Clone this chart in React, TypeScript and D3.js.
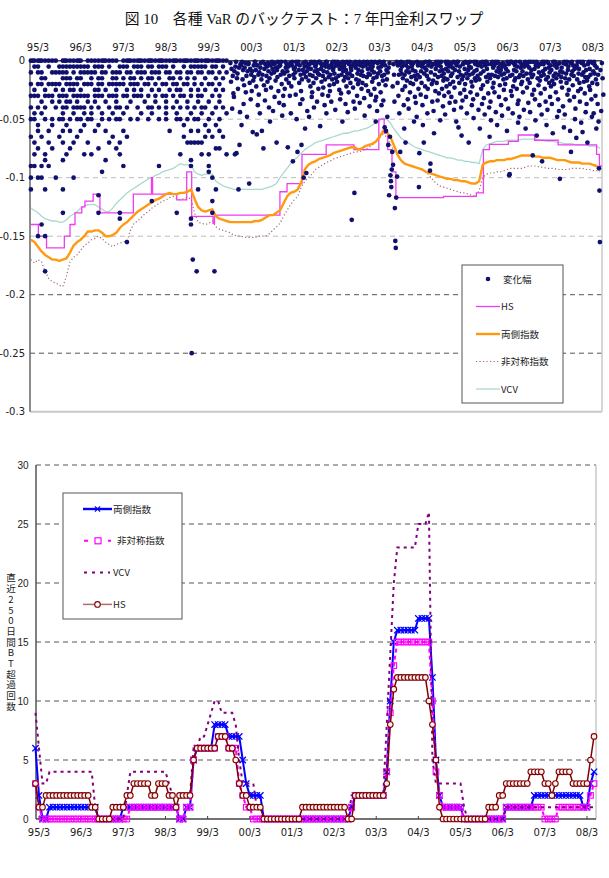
import { useEffect, useRef } from "react";
import * as d3 from "d3";

// 横軸 (各年3月)
const tickLabels = ["95/3", "96/3", "97/3", "98/3", "99/3", "00/3", "01/3", "02/3", "03/3", "04/3", "05/3", "06/3", "07/3", "08/3"];

// 上段: VaR (月次, 1995年1月 = 0)
const twoSidedVaR = [
  -0.153, -0.155, -0.159, -0.163, -0.166, -0.168, -0.17, -0.17, -0.171, -0.17,
  -0.169, -0.164, -0.158, -0.155, -0.153, -0.15, -0.146, -0.146, -0.145, -0.145,
  -0.147, -0.15, -0.15, -0.149, -0.147, -0.143, -0.14, -0.138, -0.135, -0.132,
  -0.129, -0.127, -0.125, -0.123, -0.121, -0.119, -0.118, -0.116, -0.114, -0.113,
  -0.114, -0.114, -0.113, -0.113, -0.112, -0.11, -0.118, -0.125, -0.128, -0.129,
  -0.128, -0.127, -0.133, -0.135, -0.136, -0.137, -0.138, -0.138, -0.138, -0.138,
  -0.138, -0.138, -0.138, -0.137, -0.137, -0.136, -0.134, -0.132, -0.132, -0.13,
  -0.128, -0.122, -0.116, -0.113, -0.112, -0.11, -0.104, -0.093, -0.089, -0.087,
  -0.086, -0.084, -0.083, -0.082, -0.081, -0.079, -0.078, -0.077, -0.076, -0.075,
  -0.074, -0.074, -0.076, -0.075, -0.073, -0.072, -0.071, -0.069, -0.065, -0.06,
  -0.061, -0.065, -0.072, -0.08, -0.085, -0.088, -0.089, -0.09, -0.091, -0.092,
  -0.093, -0.095, -0.096, -0.097, -0.098, -0.099, -0.1, -0.101, -0.101, -0.102,
  -0.102, -0.103, -0.103, -0.104, -0.105, -0.105, -0.103, -0.089, -0.087, -0.086,
  -0.086, -0.085, -0.085, -0.085, -0.084, -0.084, -0.083, -0.082, -0.081, -0.081,
  -0.081, -0.081, -0.082, -0.082, -0.083, -0.083, -0.083, -0.084, -0.085, -0.085,
  -0.085, -0.086, -0.087, -0.087, -0.087, -0.088, -0.088, -0.088, -0.089, -0.09,
  -0.093,
];

const asymVaR = [
  -0.17, -0.173, -0.17, -0.172, -0.18, -0.186, -0.189, -0.19, -0.192, -0.193,
  -0.184, -0.172, -0.168, -0.166, -0.162, -0.158, -0.156, -0.153, -0.152, -0.15,
  -0.152, -0.155, -0.157, -0.159, -0.157, -0.156, -0.155, -0.154, -0.145, -0.139,
  -0.137, -0.134, -0.131, -0.129, -0.126, -0.124, -0.122, -0.12, -0.119, -0.117,
  -0.116, -0.118, -0.119, -0.118, -0.117, -0.118, -0.13, -0.138, -0.139, -0.14,
  -0.139, -0.137, -0.142, -0.144, -0.145, -0.146, -0.147, -0.149, -0.15, -0.15,
  -0.151, -0.151, -0.151, -0.151, -0.15, -0.15, -0.15, -0.148, -0.145, -0.142,
  -0.139, -0.133, -0.128, -0.123, -0.119, -0.116, -0.108, -0.103, -0.1, -0.097,
  -0.093, -0.091, -0.089, -0.087, -0.086, -0.084, -0.083, -0.082, -0.081, -0.08,
  -0.079, -0.078, -0.078, -0.077, -0.076, -0.074, -0.072, -0.069, -0.066, -0.063,
  -0.065, -0.071, -0.076, -0.081, -0.085, -0.087, -0.089, -0.09, -0.091, -0.092,
  -0.093, -0.095, -0.098, -0.102, -0.105, -0.107, -0.108, -0.109, -0.11, -0.111,
  -0.112, -0.113, -0.113, -0.114, -0.115, -0.116, -0.111, -0.1, -0.097, -0.096,
  -0.096, -0.095, -0.095, -0.094, -0.093, -0.092, -0.092, -0.092, -0.092, -0.091,
  -0.09, -0.09, -0.09, -0.091, -0.091, -0.092, -0.092, -0.092, -0.093, -0.093,
  -0.093, -0.093, -0.092, -0.092, -0.092, -0.092, -0.093, -0.093, -0.094, -0.094,
  -0.095,
];

const vcvVaR = [
  -0.126, -0.128, -0.13, -0.133, -0.135, -0.136, -0.137, -0.137, -0.138, -0.138,
  -0.136, -0.133, -0.131, -0.129, -0.126, -0.124, -0.123, -0.123, -0.123, -0.125,
  -0.127, -0.129, -0.129, -0.126, -0.122, -0.119, -0.116, -0.113, -0.111, -0.109,
  -0.107, -0.105, -0.103, -0.101, -0.1, -0.098, -0.097, -0.095, -0.094, -0.093,
  -0.092, -0.09, -0.088, -0.089, -0.089, -0.089, -0.095, -0.097, -0.098, -0.097,
  -0.097, -0.097, -0.103, -0.105, -0.107, -0.108, -0.109, -0.11, -0.11, -0.11,
  -0.11, -0.11, -0.11, -0.11, -0.11, -0.11, -0.109, -0.108, -0.107, -0.105,
  -0.1, -0.096, -0.092, -0.088, -0.085, -0.082, -0.079, -0.076, -0.074, -0.072,
  -0.07, -0.069, -0.068, -0.067, -0.066, -0.065, -0.064, -0.063, -0.062, -0.062,
  -0.061, -0.06, -0.06, -0.059, -0.058, -0.057, -0.055, -0.053, -0.051, -0.049,
  -0.05, -0.053, -0.058, -0.062, -0.066, -0.068, -0.07, -0.072, -0.074, -0.075,
  -0.076, -0.077, -0.078, -0.079, -0.08, -0.081, -0.082, -0.083, -0.083, -0.084,
  -0.085, -0.085, -0.086, -0.086, -0.087, -0.087, -0.088, -0.076, -0.072, -0.071,
  -0.07, -0.069, -0.069, -0.069, -0.068, -0.068, -0.068, -0.068, -0.067, -0.067,
  -0.067, -0.067, -0.067, -0.068, -0.068, -0.069, -0.069, -0.069, -0.07, -0.07,
  -0.071, -0.071, -0.071, -0.072, -0.072, -0.072, -0.072, -0.073, -0.073, -0.073,
  -0.075,
];

// HS は階段状: [月, 値]
const hsVaR: [number, number][] = [
  [0, -0.14], [2.1, -0.15], [4.4, -0.16], [9.4, -0.15], [11, -0.14], [12.4, -0.13],
  [14.3, -0.125], [15.2, -0.12], [17.5, -0.114], [19.4, -0.13], [28.8, -0.114],
  [33.9, -0.1], [34.2, -0.114], [41, -0.119], [43.8, -0.095], [45.2, -0.133],
  [51.2, -0.139], [51.6, -0.132], [70, -0.112], [72, -0.105], [76.2, -0.08],
  [83, -0.072], [90.8, -0.076], [97.8, -0.05], [99.3, -0.062], [100.3, -0.076],
  [101.5, -0.095], [102.6, -0.117], [116, -0.116], [125.2, -0.113], [127.2, -0.076],
  [128.9, -0.0715], [134.2, -0.069], [137, -0.0635], [141.6, -0.068], [148.2, -0.072],
  [159, -0.08], [159.8, -0.09], [160.5, -0.09],
];

// 変化幅: 1995〜99年半ばは 0.005 刻みの水準ごとに月を並べる
const changeLevels = [
  0, -0.005, -0.01, -0.015, -0.02, -0.025, -0.03, -0.035, -0.04, -0.045, -0.05,
  -0.055, -0.06, -0.065, -0.07, -0.075, -0.08, -0.085, -0.09, -0.095, -0.1, -0.11,
  -0.115, -0.12, -0.13, -0.135, -0.14, -0.15, -0.155, -0.17, -0.18, -0.25,
];
const changeMonths = [
  [0, 0.5, 1, 2, 2.5, 3, 4, 5, 6, 7, 9, 9.5, 10, 11, 12, 13, 13.5, 14, 16, 17, 18, 19, 20, 20.5, 21, 22, 23, 24, 26, 27, 27.5, 28, 29, 30, 30.5, 31, 32, 33, 33.5, 34, 35, 36, 36.5, 37, 38, 39, 40, 40.5, 41, 42, 43, 43.5, 44, 45, 46, 46.5, 47, 48, 49, 49.5, 50, 51, 52, 52.5, 53, 54, 55],
  [1, 2, 5, 8, 9, 10, 11, 12, 13, 14, 15, 16, 18, 19, 20, 22, 25, 26, 27, 29, 30, 31, 33, 34, 36, 37, 38, 40, 43, 45, 46, 47, 48, 49, 51, 52, 54],
  [0, 2, 3, 6, 7, 8, 9, 10, 12, 14, 15, 16, 17, 18, 20, 21, 23, 24, 25, 27, 28, 30, 31, 32, 34, 35, 36, 38, 39, 41, 42, 44, 45, 47, 48, 50, 51, 53, 55],
  [3, 4, 9, 10, 11, 13, 14, 17, 19, 20, 23, 24, 26, 28, 29, 31, 33, 34, 36, 39, 40, 42, 44, 46, 49, 52, 54],
  [0, 2, 3, 5, 6, 7, 8, 10, 11, 12, 13, 15, 16, 17, 19, 20, 22, 23, 24, 25, 26, 28, 29, 30, 32, 33, 35, 37, 38, 40, 41, 43, 44, 46, 48, 50, 51, 53],
  [1, 4, 7, 9, 11, 12, 14, 18, 19, 21, 24, 27, 29, 31, 34, 36, 39, 41, 42, 45, 47, 49, 52, 54],
  [0, 1, 2, 4, 5, 6, 8, 9, 10, 12, 13, 14, 15, 16, 18, 19, 20, 22, 23, 24, 26, 27, 29, 30, 31, 33, 35, 37, 38, 40, 42, 43, 45, 47, 48, 51, 53],
  [3, 6, 8, 10, 11, 13, 16, 18, 21, 24, 28, 32, 35, 38, 41, 44, 47, 50, 53],
  [0, 2, 4, 7, 9, 10, 12, 13, 14, 15, 17, 19, 22, 24, 25, 27, 30, 33, 34, 36, 38, 40, 42, 44, 46, 48, 49, 52, 54],
  [1, 3, 9, 12, 15, 17, 20, 23, 26, 31, 34, 38, 41, 45, 48, 51, 55],
  [0, 1, 4, 6, 8, 9, 11, 13, 14, 16, 17, 20, 22, 24, 25, 28, 30, 33, 36, 38, 41, 42, 44, 46, 47, 50, 53],
  [2, 6, 10, 15, 19, 43, 49, 52],
  [2, 5, 9, 11, 14, 18, 21, 26, 39, 45, 47, 50, 53],
  [0, 3, 8, 13, 23, 27, 43, 49, 51, 54],
  [1, 5, 9, 12, 16, 22, 25, 44, 45, 46, 47, 48],
  [2, 6, 11, 19, 24, 52, 53],
  [1, 4, 10, 15, 17, 25, 42, 48, 50, 55],
  [4, 9, 21, 45],
  [0, 1, 3, 5, 26, 36, 45, 50],
  [20, 50],
  [0, 2, 3, 7, 12, 51],
  [0, 4, 9, 47, 52],
  [19],
  [34, 51],
  [9, 19, 25, 41, 51],
  [25, 45],
  [3, 45],
  [2, 4],
  [27],
  [45.5],
  [4, 46.6, 51.6],
  [45.2],
];

// 1999年9月以降: 月ごとの変化幅
const lateStart = 56;
const lateChanges = [
  [-.002, -.018, -.007, -.041, -.013, -.028],
  [-.005, -.001, -.079, -.015, -.031, -.009, -.08],
  [-.003, -.011, -.024, -.11, -.006, -.072, -.044],
  [-.001, -.016, -.008, -.037, -.021, -.004, -.055],
  [-.006, -.002, -.027, -.013, -.048, -.009],
  [-.002, -.105, -.019, -.007, -.033, -.012, -.003],
  [-.004, -.014, -.001, -.026, -.009, -.061, -.017],
  [-.001, -.008, -.022, -.063, -.004, -.038, -.012],
  [-.006, -.002, -.016, -.06, -.029, -.01, -.045],
  [-.003, -.012, -.001, -.075, -.021, -.007, -.034],
  [-.005, -.018, -.002, -.009, -.04, -.025, -.013],
  [-.001, -.007, -.015, -.052, -.004, -.023, -.011],
  [-.003, -.01, -.031, -.002, -.017, -.006, -.043],
  [-.002, -.07, -.008, -.014, -.001, -.026, -.005, -.036],
  [-.004, -.012, -.001, -.02, -.047, -.009, -.03],
  [-.001, -.006, -.016, -.003, -.038, -.011, -.024],
  [-.002, -.009, -.074, -.005, -.019, -.013, -.03],
  [-.004, -.001, -.086, -.012, -.007, -.045, -.022],
  [-.003, -.078, -.015, -.006, -.01, -.029, -.001, -.05],
  [-.001, -.008, -.019, -.004, -.037, -.012, -.026, -.002],
  [-.002, -.1, -.011, -.005, -.072, -.016, -.033, -.008],
  [-.006, -.058, -.001, -.014, -.096, -.009, -.043, -.003],
  [-.003, -.012, -.022, -.007, -.001, -.031, -.017, -.048],
  [-.001, -.009, -.005, -.027, -.013, -.002, -.019, -.04],
  [-.004, -.015, -.002, -.035, -.008, -.011, -.024, -.001],
  [-.002, -.007, -.018, -.004, -.029, -.012, -.001, -.056],
  [-.005, -.001, -.013, -.023, -.009, -.003, -.038, -.016],
  [-.001, -.01, -.004, -.03, -.014, -.006, -.021, -.045],
  [-.003, -.016, -.001, -.008, -.026, -.012, -.005, -.035],
  [-.002, -.006, -.02, -.011, -.001, -.042, -.015, -.004],
  [-.004, -.013, -.002, -.025, -.007, -.033, -.018, -.001],
  [-.001, -.009, -.017, -.003, -.028, -.012, -.006, -.052],
  [-.005, -.002, -.014, -.037, -.008, -.022, -.001, -.011],
  [-.003, -.011, -.001, -.019, -.006, -.044, -.015, -.027],
  [-.002, -.113, -.008, -.136, -.013, -.004, -.023, -.035],
  [-.001, -.006, -.016, -.003, -.03, -.011, -.02, -.041],
  [-.004, -.012, -.002, -.024, -.008, -.017, -.001, -.036],
  [-.002, -.009, -.019, -.005, -.013, -.001, -.032, -.047],
  [-.003, -.014, -.001, -.007, -.026, -.011, -.004, -.021],
  [-.001, -.008, -.018, -.003, -.039, -.012, -.006, -.029],
  [-.005, -.002, -.015, -.01, -.024, -.001, -.034, -.052],
  [-.002, -.011, -.006, -.02, -.001, -.031, -.014, -.043],
  [-.003, -.017, -.001, -.009, -.027, -.005, -.038, -.013],
  [-.001, -.012, -.057, -.004, -.021, -.06, -.008, -.034],
  [-.006, -.115, -.002, -.065, -.016, -.048, -.01, -.072],
  [-.003, -.098, -.103, -.108, -.093, -.078, -.022, -.089],
  [-.126, -.154, -.16, -.117, -.001, -.099, -.012, -.035],
  [-.002, -.078, -.008, -.019, -.004, -.03, -.012, -.045],
  [-.001, -.011, -.005, -.025, -.015, -.002, -.038, -.058],
  [-.004, -.009, -.017, -.001, -.033, -.012, -.022, -.07],
  [-.002, -.014, -.006, -.041, -.01, -.001, -.027, -.019],
  [-.003, -.008, -.02, -.002, -.052, -.013, -.031, -.005],
  [-.001, -.012, -.004, -.024, -.009, -.036, -.016, -.048],
  [-.005, -.108, -.079, -.014, -.002, -.029, -.009, -.019],
  [-.002, -.07, -.011, -.006, -.022, -.001, -.038, -.055],
  [-.004, -.016, -.001, -.031, -.008, -.013, -.045, -.024],
  [-.001, -.094, -.088, -.01, -.005, -.02, -.035, -.003],
  [-.003, -.012, -.026, -.007, -.001, -.017, -.043, -.062],
  [-.002, -.009, -.019, -.004, -.034, -.014, -.001, -.028],
  [-.005, -.001, -.013, -.024, -.008, -.039, -.017, -.051],
  [-.001, -.007, -.022, -.003, -.011, -.03, -.015, -.046],
  [-.003, -.016, -.001, -.009, -.027, -.005, -.036, -.02],
  [-.002, -.011, -.006, -.018, -.001, -.042, -.013, -.031],
  [-.004, -.001, -.014, -.023, -.008, -.035, -.002, -.052],
  [-.001, -.057, -.009, -.019, -.005, -.028, -.012, -.04],
  [-.003, -.013, -.002, -.025, -.007, -.064, -.016, -.034],
  [-.002, -.008, -.02, -.001, -.031, -.011, -.045, -.015],
  [-.005, -.012, -.001, -.027, -.006, -.018, -.038, -.07],
  [-.001, -.009, -.015, -.003, -.022, -.011, -.033, -.049],
  [-.003, -.017, -.001, -.008, -.029, -.013, -.004, -.042],
  [-.002, -.011, -.024, -.005, -.037, -.001, -.016, -.058],
  [-.004, -.001, -.014, -.021, -.009, -.032, -.002, -.046],
  [-.001, -.007, -.018, -.003, -.028, -.012, -.04, -.065],
  [-.003, -.012, -.001, -.023, -.006, -.015, -.035, -.051],
  [-.002, -.009, -.019, -.004, -.027, -.013, -.001, -.044],
  [-.001, -.014, -.006, -.031, -.01, -.021, -.003, -.055],
  [-.005, -.002, -.016, -.025, -.008, -.038, -.012, -.047],
  [-.001, -.011, -.004, -.02, -.033, -.007, -.015, -.06],
  [-.003, -.098, -.097, -.013, -.001, -.026, -.009, -.041],
  [-.002, -.008, -.017, -.001, -.03, -.012, -.045, -.022],
  [-.004, -.015, -.001, -.009, -.024, -.005, -.037, -.053],
  [-.001, -.012, -.006, -.02, -.003, -.034, -.014, -.048],
  [-.003, -.001, -.018, -.009, -.027, -.013, -.042, -.005],
  [-.002, -.011, -.023, -.004, -.016, -.036, -.001, -.058],
  [-.001, -.008, -.014, -.029, -.006, -.019, -.044, -.011],
  [-.004, -.081, -.012, -.001, -.025, -.007, -.033, -.051],
  [-.002, -.015, -.005, -.021, -.01, -.038, -.001, -.064],
  [-.086, -.001, -.009, -.017, -.003, -.028, -.013, -.046],
  [-.003, -.012, -.001, -.024, -.007, -.035, -.016, -.055],
  [-.002, -.006, -.019, -.01, -.031, -.001, -.042, -.014],
  [-.001, -.013, -.004, -.022, -.008, -.037, -.017, -.062],
  [-.004, -.001, -.011, -.027, -.015, -.006, -.048, -.02],
  [-.002, -.101, -.009, -.018, -.003, -.033, -.012, -.043],
  [-.001, -.014, -.006, -.023, -.01, -.039, -.002, -.057],
  [-.003, -.011, -.019, -.001, -.029, -.008, -.046, -.015],
  [-.002, -.078, -.012, -.005, -.025, -.016, -.034, -.06],
  [-.001, -.009, -.021, -.004, -.013, -.031, -.007, -.05],
  [-.004, -.016, -.001, -.026, -.011, -.041, -.006, -.066],
  [-.002, -.012, -.007, -.019, -.035, -.001, -.024, -.053],
  [-.001, -.01, -.018, -.004, -.028, -.014, -.044, -.061],
  [-.003, -.014, -.001, -.022, -.008, -.037, -.017, -.07],
  [-.002, -.007, -.025, -.012, -.001, -.033, -.048, -.019],
  [-.001, -.011, -.004, -.03, -.016, -.058, -.009, -.045],
  [-.092, -.111, -.155, -.006, -.02, -.037, -.012, -.052],
  [-.002, -.015, -.029, -.008, -.043],
];

// 下段: 直近250日間の超過回数 (月次, 1995年2月 = 0)
const exTwoSided = [
  6, 2, 0, 0, 1, 1, 1, 1, 1, 1,
  1, 1, 1, 1, 1, 1, 1, 1, 0, 0,
  0, 0, 0, 0, 0, 1, 1, 1, 1, 1,
  1, 1, 1, 1, 1, 1, 1, 1, 1, 1,
  1, 0, 0, 1, 1, 5, 6, 6, 6, 6,
  6, 8, 8, 8, 8, 7, 7, 7, 7, 5,
  3, 2, 2, 2, 2, 0, 0, 0, 0, 0,
  0, 0, 0, 0, 0, 0, 0, 0, 0, 0,
  0, 0, 0, 0, 0, 0, 0, 0, 0, 0,
  1, 2, 2, 2, 2, 2, 2, 2, 2, 2,
  4, 10, 15, 16, 16, 16, 16, 16, 16, 17,
  17, 17, 17, 12, 5, 2, 1, 1, 1, 1,
  1, 1, 0, 0, 0, 0, 0, 0, 0, 0,
  0, 0, 0, 0, 1, 1, 1, 1, 1, 1,
  1, 1, 2, 2, 2, 2, 2, 2, 2, 2,
  2, 2, 2, 2, 2, 2, 1, 1, 3, 4,
];

const exAsym = [
  3, 1, 0, 0, 0, 0, 0, 0, 0, 0,
  0, 0, 0, 0, 0, 0, 0, 0, 0, 0,
  0, 0, 0, 0, 0, 0, 0, 1, 1, 1,
  1, 1, 1, 1, 1, 1, 1, 1, 1, 1,
  1, 0, 0, 1, 1, 5, 6, 6, 6, 6,
  6, 6, 7, 7, 7, 6, 6, 6, 3, 2,
  1, 1, 0, 0, 0, 0, 0, 0, 0, 0,
  0, 0, 0, 0, 0, 0, 0, 0, 0, 0,
  0, 0, 0, 0, 0, 0, 0, 0, 0, 0,
  1, 2, 2, 2, 2, 2, 2, 2, 2, 2,
  4, 9, 13, 15, 15, 15, 15, 15, 15, 15,
  15, 15, 15, 10, 4, 2, 1, 1, 1, 1,
  1, 1, 0, 0, 0, 0, 0, 0, 0, 0,
  0, 0, 0, 0, 1, 1, 1, 1, 1, 1,
  1, 1, 1, 1, 1, 0, 0, 0, 0, 1,
  1, 1, 1, 1, 1, 1, 1, 1, 2, 3,
];

const exVcv = [
  9, 6, 3, 3, 4, 4, 4, 4, 4, 4,
  4, 4, 4, 4, 4, 4, 4, 1, 0, 0,
  0, 0, 0, 0, 0, 0, 2, 4, 4, 4,
  4, 4, 4, 4, 4, 4, 4, 4, 3, 2,
  2, 2, 2, 2, 2, 6, 6, 7, 7, 8,
  9, 10, 10, 9, 9, 9, 9, 8, 5, 3,
  3, 3, 3, 1, 1, 0, 0, 0, 0, 0,
  0, 0, 0, 0, 0, 0, 0, 0, 0, 0,
  0, 0, 0, 0, 0, 0, 0, 0, 0, 0,
  2, 2, 2, 2, 2, 2, 2, 2, 2, 2,
  8, 14, 20, 23, 23, 23, 23, 23, 23, 25,
  25, 25, 26, 5, 3, 3, 3, 3, 3, 3,
  3, 3, 1, 0, 0, 0, 0, 0, 0, 0,
  0, 0, 0, 0, 1, 1, 1, 1, 1, 1,
  1, 1, 1, 1, 1, 1, 1, 1, 1, 1,
  1, 1, 1, 1, 1, 1, 1, 1, 1, 1,
];

const exHs = [
  3, 1, 1, 2, 2, 2, 2, 2, 2, 2,
  2, 2, 2, 2, 2, 2, 1, 1, 0, 0,
  0, 0, 1, 1, 1, 1, 2, 2, 3, 3,
  3, 3, 3, 2, 2, 3, 3, 3, 2, 2,
  1, 2, 2, 2, 2, 5, 6, 6, 6, 6,
  6, 6, 7, 7, 7, 6, 6, 5, 3, 2,
  2, 1, 1, 1, 1, 0, 0, 0, 0, 0,
  0, 0, 0, 0, 0, 0, 1, 1, 1, 1,
  1, 1, 1, 1, 1, 1, 1, 1, 1, 0,
  0, 2, 2, 2, 2, 2, 2, 2, 2, 2,
  3, 8, 11, 12, 12, 12, 12, 12, 12, 12,
  12, 12, 10, 8, 5, 1, 0, 0, 0, 0,
  0, 0, 0, 0, 0, 0, 0, 0, 0, 1,
  1, 1, 2, 2, 3, 3, 3, 3, 3, 3,
  3, 4, 4, 4, 4, 3, 3, 2, 3, 4,
  4, 4, 4, 3, 3, 3, 3, 3, 5, 7,
];

const FONT_NUM = "'DejaVu Sans', sans-serif";
const FONT_NARROW = "'Liberation Sans', sans-serif";
const FONT_JP = "'Noto Sans CJK JP', sans-serif";

export default function App() {
  const svgRef = useRef<SVGSVGElement | null>(null);

  useEffect(() => {
    if (!svgRef.current) return;
    const svg = d3.select(svgRef.current);
    svg.selectAll("*").remove();

    const tickTimes = tickLabels.map((s) => {
      const yy = +s.slice(0, 2);
      return (yy > 50 ? 1900 : 2000) + yy + 2 / 12;
    });

    svg
      .append("text")
      .attr("x", 304)
      .attr("y", 24)
      .attr("text-anchor", "middle")
      .attr("font-family", "'Liberation Serif', 'Noto Sans CJK JP', serif")
      .attr("font-size", 14.8)
      .attr("fill", "#111")
      .text("図 10　各種 VaR のバックテスト：7 年円金利スワップ");

    // ---------- 上段 ----------
    const topL = 30;
    const topR = 602;
    const xTop = d3.scaleLinear().domain([tickTimes[0], tickTimes[13]]).range([38, 593]);
    const yTop = d3.scaleLinear().domain([-0.3, 0]).range([411.7, 60.7]);
    const topT = (i: number) => 1995 + i / 12;

    const gTop = svg.append("g");

    gTop
      .selectAll("line.grid")
      .data([-0.05, -0.1, -0.15, -0.2, -0.25])
      .join("line")
      .attr("class", "grid")
      .attr("x1", topL)
      .attr("x2", topR)
      .attr("y1", (d) => yTop(d))
      .attr("y2", (d) => yTop(d))
      .attr("stroke", (d) => (d <= -0.2 ? "#555" : "#bdbdbd"))
      .attr("stroke-width", 1)
      .attr("stroke-dasharray", "5,4");

    gTop.append("line").attr("x1", topR).attr("x2", topR).attr("y1", yTop(0)).attr("y2", yTop(-0.3))
      .attr("stroke", "#c8c8c8").attr("stroke-width", 1.5);
    gTop.append("line").attr("x1", topL).attr("x2", topR).attr("y1", yTop(-0.3)).attr("y2", yTop(-0.3))
      .attr("stroke", "#c8c8c8").attr("stroke-width", 2);
    gTop.append("line").attr("x1", topL).attr("x2", topL).attr("y1", yTop(0)).attr("y2", yTop(-0.3))
      .attr("stroke", "#666").attr("stroke-width", 1.5);
    gTop.append("line").attr("x1", topL).attr("x2", topR).attr("y1", yTop(0)).attr("y2", yTop(0))
      .attr("stroke", "#444").attr("stroke-width", 1.5);

    const monthLine = d3
      .line<number>()
      .x((_, i) => xTop(topT(i)))
      .y((d) => yTop(d));

    gTop.append("path").attr("d", monthLine(vcvVaR)).attr("fill", "none")
      .attr("stroke", "#a9d9cd").attr("stroke-width", 1.3);
    gTop.append("path").attr("d", monthLine(asymVaR)).attr("fill", "none")
      .attr("stroke", "#a06b6b").attr("stroke-width", 1.2).attr("stroke-dasharray", "1.2,2.3");

    const hsLine = d3
      .line<[number, number]>()
      .curve(d3.curveStepAfter)
      .x((d) => xTop(topT(d[0])))
      .y((d) => yTop(d[1]));
    gTop.append("path").attr("d", hsLine(hsVaR)).attr("fill", "none")
      .attr("stroke", "#f03cf0").attr("stroke-width", 1.3);

    gTop.append("path").attr("d", monthLine(twoSidedVaR)).attr("fill", "none")
      .attr("stroke", "#ff9a10").attr("stroke-width", 2.4).attr("stroke-linejoin", "round");

    // 日付は月内に均等に並べる (並び順は月ごとにずらす)
    const dots: [number, number][] = [];
    changeLevels.forEach((v, r) => changeMonths[r].forEach((m) => dots.push([topT(m), v])));
    lateChanges.forEach((vals, k) =>
      vals.forEach((v, j) => {
        const slot = (j + 3 * k) % vals.length;
        dots.push([topT(lateStart + k + (slot + 0.5) / vals.length), v]);
      })
    );
    gTop
      .selectAll("circle.dot")
      .data(dots)
      .join("circle")
      .attr("class", "dot")
      .attr("cx", (d) => xTop(d[0]))
      .attr("cy", (d) => yTop(d[1]))
      .attr("r", 2.35)
      .attr("fill", "#10106e");

    gTop
      .selectAll("text.ylab")
      .data([0, -0.05, -0.1, -0.15, -0.2, -0.25, -0.3])
      .join("text")
      .attr("class", "ylab")
      .attr("x", 25)
      .attr("y", (d) => yTop(d) + 3.6)
      .attr("text-anchor", "end")
      .attr("font-family", FONT_NUM)
      .attr("font-size", 10)
      .attr("fill", "#222")
      .text((d) => (d === 0 ? "0" : String(d)));

    gTop
      .selectAll("text.xlab")
      .data(tickLabels)
      .join("text")
      .attr("class", "xlab")
      .attr("x", (_, i) => xTop(tickTimes[i]))
      .attr("y", 51)
      .attr("text-anchor", "middle")
      .attr("font-family", FONT_NUM)
      .attr("font-size", 10)
      .attr("fill", "#222")
      .text((d) => d);

    // 凡例 (上段)
    const lgTop = gTop.append("g");
    lgTop.append("rect").attr("x", 462).attr("y", 265).attr("width", 101).attr("height", 138)
      .attr("fill", "#fff").attr("stroke", "#555").attr("stroke-width", 1);
    const topItems = ["変化幅", "HS", "両側指数", "非対称指数", "VCV"];
    const topItemY = (i: number) => 279 + i * 27.5;
    lgTop.append("circle").attr("cx", 488).attr("cy", topItemY(0)).attr("r", 2.3).attr("fill", "#10106e");
    lgTop.append("line").attr("x1", 476).attr("x2", 500).attr("y1", topItemY(1)).attr("y2", topItemY(1))
      .attr("stroke", "#f03cf0").attr("stroke-width", 1.3);
    lgTop.append("line").attr("x1", 476).attr("x2", 500).attr("y1", topItemY(2)).attr("y2", topItemY(2))
      .attr("stroke", "#ff9a10").attr("stroke-width", 2.4);
    lgTop.append("line").attr("x1", 476).attr("x2", 500).attr("y1", topItemY(3)).attr("y2", topItemY(3))
      .attr("stroke", "#a06b6b").attr("stroke-width", 1.2).attr("stroke-dasharray", "1.2,2.3");
    lgTop.append("line").attr("x1", 476).attr("x2", 500).attr("y1", topItemY(4)).attr("y2", topItemY(4))
      .attr("stroke", "#a9d9cd").attr("stroke-width", 1.3);
    lgTop
      .selectAll("text")
      .data(topItems)
      .join("text")
      .attr("x", (d) => (d === "変化幅" ? 503 : 501))
      .attr("y", (_, i) => topItemY(i) + 3.5)
      .attr("font-family", FONT_JP)
      .attr("font-size", 9.5)
      .attr("fill", "#222")
      .text((d) => d);

    // ---------- 下段 ----------
    const botL = 36;
    const botR = 596;
    const xBot = d3.scaleLinear().domain([tickTimes[0], tickTimes[13]]).range([39, 587]);
    const yBot = d3.scaleLinear().domain([0, 30]).range([819, 465]);
    const botT = (i: number) => 1995 + (i + 1) / 12;

    const gBot = svg.append("g");

    gBot
      .selectAll("line.grid")
      .data([5, 10, 15, 20, 25, 30])
      .join("line")
      .attr("class", "grid")
      .attr("x1", botL)
      .attr("x2", botR)
      .attr("y1", (d) => yBot(d))
      .attr("y2", (d) => yBot(d))
      .attr("stroke", "#555")
      .attr("stroke-width", 1)
      .attr("stroke-dasharray", "5,4");

    gBot.append("line").attr("x1", botR).attr("x2", botR).attr("y1", yBot(30)).attr("y2", yBot(0))
      .attr("stroke", "#c8c8c8").attr("stroke-width", 1.5);
    gBot.append("line").attr("x1", botL).attr("x2", botL).attr("y1", yBot(30)).attr("y2", yBot(0))
      .attr("stroke", "#555").attr("stroke-width", 1.5);
    gBot.append("line").attr("x1", botL).attr("x2", botR).attr("y1", yBot(0)).attr("y2", yBot(0))
      .attr("stroke", "#444").attr("stroke-width", 1.5);
    gBot
      .selectAll("line.tick")
      .data(tickTimes)
      .join("line")
      .attr("class", "tick")
      .attr("x1", (d) => xBot(d))
      .attr("x2", (d) => xBot(d))
      .attr("y1", yBot(0))
      .attr("y2", yBot(0) - 3)
      .attr("stroke", "#444");

    const countLine = d3
      .line<number>()
      .x((_, i) => xBot(botT(i)))
      .y((d) => yBot(d));

    const xMark = (cx: number, cy: number, s: number) =>
      `M${cx - s},${cy - s}L${cx + s},${cy + s}M${cx - s},${cy + s}L${cx + s},${cy - s}`;

    // 両側指数
    gBot.append("path").attr("d", countLine(exTwoSided)).attr("fill", "none")
      .attr("stroke", "#0000ff").attr("stroke-width", 2);
    gBot
      .selectAll("path.xm")
      .data(exTwoSided)
      .join("path")
      .attr("class", "xm")
      .attr("d", (d, i) => xMark(xBot(botT(i)), yBot(d), 3.2))
      .attr("stroke", "#0000ff")
      .attr("stroke-width", 1.3)
      .attr("fill", "none");

    // 非対称指数
    gBot.append("path").attr("d", countLine(exAsym)).attr("fill", "none")
      .attr("stroke", "#ff00ff").attr("stroke-width", 2).attr("stroke-dasharray", "4,3");
    gBot
      .selectAll("rect.sq")
      .data(exAsym)
      .join("rect")
      .attr("class", "sq")
      .attr("x", (_, i) => xBot(botT(i)) - 2.8)
      .attr("y", (d) => yBot(d) - 2.8)
      .attr("width", 5.6)
      .attr("height", 5.6)
      .attr("fill", "none")
      .attr("stroke", "#ff00ff")
      .attr("stroke-width", 1.1);

    // VCV
    gBot.append("path").attr("d", countLine(exVcv)).attr("fill", "none")
      .attr("stroke", "#800080").attr("stroke-width", 2).attr("stroke-dasharray", "3,4");

    // HS
    gBot.append("path").attr("d", countLine(exHs)).attr("fill", "none")
      .attr("stroke", "#800000").attr("stroke-width", 1.5);
    gBot
      .selectAll("circle.hs")
      .data(exHs)
      .join("circle")
      .attr("class", "hs")
      .attr("cx", (_, i) => xBot(botT(i)))
      .attr("cy", (d) => yBot(d))
      .attr("r", 2.8)
      .attr("fill", "#fff0f0")
      .attr("stroke", "#800000")
      .attr("stroke-width", 1.1);

    gBot
      .selectAll("text.ylab")
      .data([0, 5, 10, 15, 20, 25, 30])
      .join("text")
      .attr("class", "ylab")
      .attr("x", 28.5)
      .attr("y", (d) => yBot(d) + 3.6)
      .attr("text-anchor", "end")
      .attr("font-family", FONT_NARROW)
      .attr("font-size", 10)
      .attr("fill", "#222")
      .text((d) => String(d));

    gBot
      .selectAll("text.xlab")
      .data(tickLabels)
      .join("text")
      .attr("class", "xlab")
      .attr("x", (_, i) => xBot(tickTimes[i]))
      .attr("y", 836)
      .attr("text-anchor", "middle")
      .attr("font-family", FONT_NUM)
      .attr("font-size", 10)
      .attr("fill", "#222")
      .text((d) => d);

    // 縦書きの軸ラベル
    gBot
      .append("text")
      .attr("x", 11)
      .attr("y", 573)
      .attr("font-family", FONT_JP)
      .attr("font-size", 9.6)
      .attr("fill", "#222")
      .style("writing-mode", "vertical-rl")
      .style("text-orientation", "upright")
      .style("letter-spacing", "1.1px")
      .text("直近250日間BT超過回数");

    // 凡例 (下段)
    const lgBot = gBot.append("g");
    lgBot.append("rect").attr("x", 63).attr("y", 493).attr("width", 119).attr("height", 126)
      .attr("fill", "#fff").attr("stroke", "#555").attr("stroke-width", 1);
    const botItems = ["両側指数", "非対称指数", "VCV", "HS"];
    const botItemY = (i: number) => 509 + i * 31.8;
    lgBot.append("line").attr("x1", 83).attr("x2", 112).attr("y1", botItemY(0)).attr("y2", botItemY(0))
      .attr("stroke", "#0000ff").attr("stroke-width", 2.4);
    lgBot.append("path").attr("d", xMark(97.5, botItemY(0), 2.6)).attr("stroke", "#0000ff").attr("stroke-width", 1.2);
    lgBot.append("line").attr("x1", 84).attr("x2", 111).attr("y1", botItemY(1)).attr("y2", botItemY(1))
      .attr("stroke", "#ff00ff").attr("stroke-width", 2).attr("stroke-dasharray", "4,8");
    lgBot.append("rect").attr("x", 95).attr("y", botItemY(1) - 3).attr("width", 6).attr("height", 6)
      .attr("fill", "#fff").attr("stroke", "#ff00ff").attr("stroke-width", 1.2);
    lgBot.append("line").attr("x1", 84).attr("x2", 110).attr("y1", botItemY(2)).attr("y2", botItemY(2))
      .attr("stroke", "#800080").attr("stroke-width", 2).attr("stroke-dasharray", "3,5");
    lgBot.append("line").attr("x1", 83).attr("x2", 112).attr("y1", botItemY(3)).attr("y2", botItemY(3))
      .attr("stroke", "#a87070").attr("stroke-width", 1.5);
    lgBot.append("circle").attr("cx", 97.5).attr("cy", botItemY(3)).attr("r", 2.8)
      .attr("fill", "#fff").attr("stroke", "#800000").attr("stroke-width", 1.1);
    lgBot
      .selectAll("text.lg")
      .data(botItems)
      .join("text")
      .attr("class", "lg")
      .attr("x", (d) => (d === "非対称指数" ? 117 : 113))
      .attr("y", (_, i) => botItemY(i) + 3.5)
      .attr("font-family", FONT_JP)
      .attr("font-size", 9.5)
      .attr("fill", "#222")
      .text((d) => d);
  }, []);

  return (
    <svg
      ref={svgRef}
      width={609}
      height={878}
      style={{ position: "absolute", left: 0, top: 0, background: "#fff", display: "block" }}
    />
  );
}
